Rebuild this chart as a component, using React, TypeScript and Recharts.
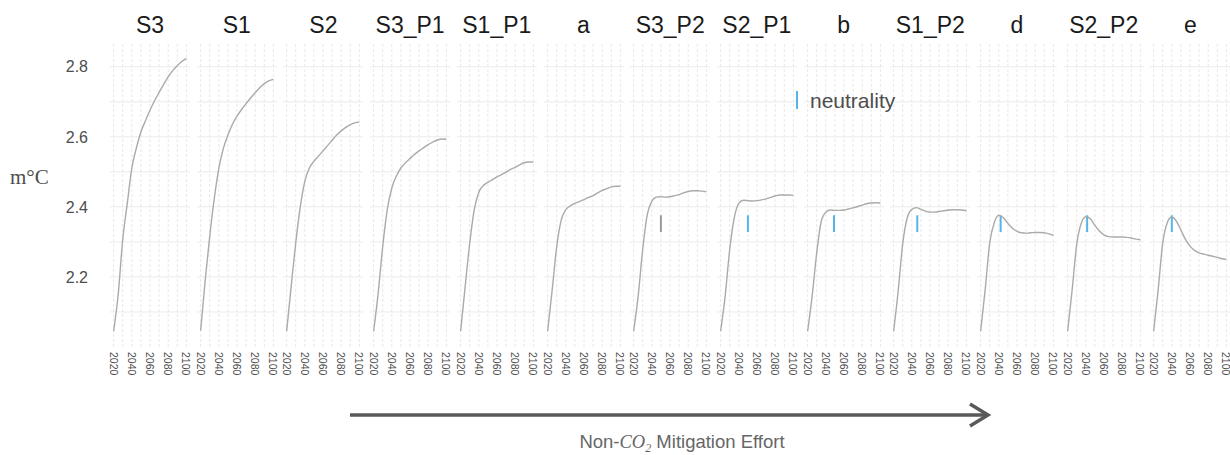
import React from "react";
import { LineChart, Line, XAxis, YAxis, CartesianGrid, ReferenceLine } from "recharts";

// sampled every 5 years, 2020..2100
const years = [2020, 2025, 2030, 2035, 2040, 2045, 2050, 2055, 2060, 2065, 2070, 2075, 2080, 2085, 2090, 2095, 2100];

const panelNames = ["S3", "S1", "S2", "S3_P1", "S1_P1", "a", "S3_P2", "S2_P1", "b", "S1_P2", "d", "S2_P2", "e"];

const s3 = [2.045, 2.15, 2.307, 2.41, 2.511, 2.568, 2.614, 2.646, 2.676, 2.703, 2.727, 2.75, 2.771, 2.789, 2.803, 2.815, 2.824];
const s1 = [2.047, 2.19, 2.316, 2.424, 2.51, 2.567, 2.605, 2.636, 2.659, 2.678, 2.695, 2.711, 2.726, 2.74, 2.752, 2.76, 2.764];
const s2 = [2.045, 2.173, 2.297, 2.4, 2.473, 2.511, 2.53, 2.545, 2.56, 2.575, 2.59, 2.605, 2.617, 2.627, 2.635, 2.64, 2.642];
const s3P1 = [2.045, 2.154, 2.287, 2.392, 2.454, 2.488, 2.511, 2.526, 2.538, 2.55, 2.56, 2.569, 2.578, 2.585, 2.591, 2.594, 2.593];
const s1P1 = [2.045, 2.173, 2.297, 2.392, 2.442, 2.461, 2.47, 2.478, 2.486, 2.492, 2.499, 2.507, 2.513, 2.52, 2.526, 2.528, 2.528];
const a = [2.045, 2.163, 2.287, 2.363, 2.392, 2.403, 2.41, 2.415, 2.421, 2.427, 2.432, 2.44, 2.447, 2.452, 2.457, 2.459, 2.459];
const s3P2 = [2.045, 2.146, 2.279, 2.378, 2.416, 2.428, 2.429, 2.428, 2.429, 2.432, 2.435, 2.44, 2.444, 2.446, 2.446, 2.445, 2.443];
const s2P1 = [2.045, 2.146, 2.279, 2.369, 2.41, 2.419, 2.418, 2.417, 2.418, 2.42, 2.423, 2.427, 2.431, 2.434, 2.434, 2.434, 2.433];
const b = [2.045, 2.146, 2.269, 2.359, 2.385, 2.391, 2.39, 2.39, 2.391, 2.394, 2.397, 2.401, 2.405, 2.409, 2.411, 2.412, 2.411];
const s1P2 = [2.045, 2.16, 2.295, 2.369, 2.393, 2.398, 2.393, 2.388, 2.385, 2.385, 2.387, 2.389, 2.391, 2.392, 2.392, 2.391, 2.389];
const d = [2.045, 2.164, 2.297, 2.355, 2.376, 2.369, 2.353, 2.339, 2.33, 2.326, 2.325, 2.326, 2.327, 2.327, 2.326, 2.323, 2.319];
const s2P2 = [2.045, 2.164, 2.293, 2.353, 2.372, 2.366, 2.347, 2.331, 2.32, 2.315, 2.314, 2.314, 2.314, 2.313, 2.311, 2.308, 2.306];
const e = [2.045, 2.164, 2.297, 2.355, 2.372, 2.359, 2.334, 2.307, 2.288, 2.276, 2.269, 2.265, 2.262, 2.259, 2.256, 2.252, 2.25];

const panelValues = [s3, s1, s2, s3P1, s1P1, a, s3P2, s2P1, b, s1P2, d, s2P2, e];

// year of neutrality per panel (null = none)
const neutralityYears = [null, null, null, null, null, null, 2050, 2050, 2049, 2046, 2042, 2041.5, 2040];
const neutralityColors = ["", "", "", "", "", "", "#999999", "#56B4E9", "#56B4E9", "#56B4E9", "#56B4E9", "#56B4E9", "#56B4E9"];
const neutralityRange = [2.328, 2.376];

const xTicks = [2020, 2040, 2060, 2080, 2100];
const xGrid = [2020, 2030, 2040, 2050, 2060, 2070, 2080, 2090, 2100];
const yTicks = [2.2, 2.4, 2.6, 2.8];
const yGrid = [2.1, 2.2, 2.3, 2.4, 2.5, 2.6, 2.7, 2.8];

const PLOT_LEFT = 110;
const PLOT_TOP = 44;
const PANEL_W = 80;
const PITCH = 86.7;
const PLOT_H = 303;
const X_AXIS_H = 40;

function YearTick(props: any) {
  const { x, y, payload } = props;
  return (
    <text
      x={x}
      y={y}
      transform={`rotate(90, ${x}, ${y})`}
      textAnchor="start"
      dominantBaseline="central"
      fontSize={10.5}
      fill="#4d4d4d"
    >
      {payload.value}
    </text>
  );
}

function Panel({ index }: { index: number }) {
  const withAxis = index === 0;
  const data = years.map((yr, i) => ({ year: yr, temp: panelValues[index][i] }));
  const ny = neutralityYears[index];
  const left = withAxis ? 0 : PLOT_LEFT + index * PITCH;

  return (
    <div style={{ position: "absolute", left, top: PLOT_TOP }}>
      <LineChart
        width={withAxis ? PLOT_LEFT + PANEL_W : PANEL_W}
        height={PLOT_H + X_AXIS_H}
        data={data}
        margin={{ top: 0, right: 0, bottom: 0, left: 0 }}
      >
        <CartesianGrid vertical={false} horizontalValues={yGrid} stroke="#ebebeb" />
        <CartesianGrid horizontal={false} verticalValues={xGrid} stroke="#e8e8e8" strokeDasharray="3 2" />
        <XAxis
          dataKey="year"
          type="number"
          domain={[2016, 2104]}
          ticks={xTicks}
          interval={0}
          tick={<YearTick />}
          tickLine={false}
          axisLine={false}
          tickSize={0}
          tickMargin={5}
          height={X_AXIS_H}
          allowDataOverflow
        />
        <YAxis
          type="number"
          domain={[2.0, 2.865]}
          ticks={yTicks}
          hide={!withAxis}
          width={withAxis ? PLOT_LEFT : 0}
          tickLine={false}
          axisLine={false}
          tickMargin={16}
          tick={{ fontSize: 16, fill: "#4d4d4d" }}
          allowDataOverflow
        />
        {ny !== null && (
          <ReferenceLine
            segment={[
              { x: ny, y: neutralityRange[0] },
              { x: ny, y: neutralityRange[1] },
            ]}
            stroke={neutralityColors[index]}
            strokeWidth={2}
          />
        )}
        <Line
          dataKey="temp"
          type="monotone"
          stroke="#aaaaaa"
          strokeWidth={1.4}
          dot={false}
          isAnimationActive={false}
        />
      </LineChart>
    </div>
  );
}

export default function App() {
  return (
    <div
      style={{
        position: "absolute",
        left: 0,
        top: 0,
        width: 1230,
        height: 455,
        overflow: "hidden",
        background: "#ffffff",
        fontFamily: "'Liberation Sans', Arial, sans-serif",
      }}
    >
      <style>{".recharts-surface { overflow: visible; }"}</style>
      {panelNames.map((_, i) => (
        <Panel key={i} index={i} />
      ))}
      <svg
        width={1230}
        height={455}
        style={{ position: "absolute", left: 0, top: 0, pointerEvents: "none" }}
      >
        {panelNames.map((name, i) => (
          <text
            key={name}
            x={PLOT_LEFT + i * PITCH + PANEL_W / 2}
            y={33}
            textAnchor="middle"
            fontSize={23}
            fill="#1a1a1a"
          >
            {name}
          </text>
        ))}
        <text x={10} y={184} fontSize={21} fill="#4d4d4d" fontFamily="'Liberation Serif', serif">
          m°C
        </text>

        {/* legend */}
        <line x1={797} y1={91} x2={797} y2={109} stroke="#56B4E9" strokeWidth={2} />
        <text x={810} y={108} fontSize={21} fill="#4d4d4d">
          neutrality
        </text>

        {/* arrow */}
        <line x1={350} y1={415} x2={987} y2={415} stroke="#595959" strokeWidth={3.5} />
        <polyline
          points="970,404 988,415 970,426"
          fill="none"
          stroke="#595959"
          strokeWidth={3.5}
        />
        <text x={682} y={448} textAnchor="middle" fontSize={18.5} fill="#666666">
          Non-
          <tspan fontFamily="'Liberation Serif', serif" fontStyle="italic">CO</tspan>
          <tspan fontFamily="'Liberation Serif', serif" fontStyle="italic" fontSize={12} dy={4}>2</tspan>
          <tspan dy={-4}> Mitigation Effort</tspan>
        </text>
      </svg>
    </div>
  );
}
